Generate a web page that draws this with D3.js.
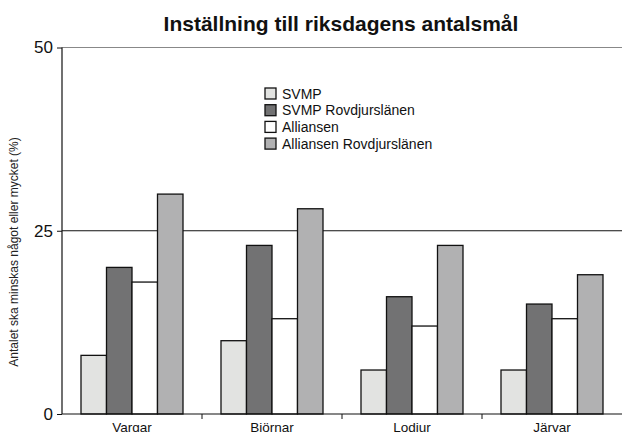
<!DOCTYPE html>
<html>
<head>
<meta charset="utf-8">
<script src="https://cdn.jsdelivr.net/npm/d3@7"></script>
<style>
  body { margin: 0; background: #fff; }
  svg { display: block; font-family: "Liberation Sans", Arial, sans-serif; }
</style>
</head>
<body>
<svg width="622" height="432"></svg>
<script>
// ======
// DATA
// ======
var categories = ["Vargar", "Björnar", "Lodjur", "Järvar"];
var seriesNames = ["SVMP", "SVMP Rovdjurslänen", "Alliansen", "Alliansen Rovdjurslänen"];
var svmp = [8, 10, 6, 6];
var svmpRovdjur = [20, 23, 16, 15];
var alliansen = [18, 13, 12, 13];
var alliansenRovdjur = [30, 28, 23, 19];
var yTicks = [0, 25, 50];
var colors = ["#e2e3e1", "#727273", "#ffffff", "#b1b1b2"];

var seriesValues = [svmp, svmpRovdjur, alliansen, alliansenRovdjur];

// ========
// LAYOUT
// ========
var svg = d3.select("svg");
var plotLeft = 62, plotRight = 622, plotTop = 47.5, plotBottom = 414;

var x = d3.scaleBand()
  .domain(categories)
  .range([plotLeft, plotRight])
  .padding(0);

// bars sit together in the middle of each category band
var xInner = d3.scaleBand()
  .domain(seriesNames)
  .range([0, x.bandwidth()])
  .paddingOuter(0.745)
  .paddingInner(0);

var y = d3.scaleLinear()
  .domain([0, 50])
  .range([plotBottom, plotTop]);

// title
svg.append("text")
  .attr("x", 341)
  .attr("y", 31)
  .attr("text-anchor", "middle")
  .attr("font-size", "21px")
  .attr("font-weight", "bold")
  .attr("fill", "#111")
  .text("Inställning till riksdagens antalsmål");

// gridlines
svg.append("line")
  .attr("x1", plotLeft).attr("x2", plotRight)
  .attr("y1", y(50)).attr("y2", y(50))
  .attr("stroke", "#888").attr("stroke-width", 1);
svg.append("line")
  .attr("x1", plotLeft).attr("x2", plotRight)
  .attr("y1", y(25)).attr("y2", y(25))
  .attr("stroke", "#111").attr("stroke-width", 1.2);

// bars
var rows = [];
categories.forEach(function (c, i) {
  seriesNames.forEach(function (s, j) {
    rows.push({ cat: c, series: s, idx: j, value: seriesValues[j][i] });
  });
});

svg.append("g")
  .selectAll("rect")
  .data(rows)
  .enter().append("rect")
  .attr("x", function (d) { return x(d.cat) + xInner(d.series); })
  .attr("y", function (d) { return y(d.value); })
  .attr("width", xInner.bandwidth())
  .attr("height", function (d) { return y(0) - y(d.value); })
  .attr("fill", function (d) { return colors[d.idx]; })
  .attr("stroke", "#111")
  .attr("stroke-width", 1.3);

// y axis
var yAxis = svg.append("g")
  .attr("transform", "translate(" + plotLeft + ",0)")
  .call(d3.axisLeft(y).tickValues(yTicks).tickSize(5).tickPadding(4));
yAxis.select(".domain").attr("stroke", "#111").attr("stroke-width", 1.2).attr("d", "M0," + plotTop + "V" + plotBottom);
yAxis.selectAll(".tick line").attr("stroke", "#111");
yAxis.selectAll(".tick text")
  .attr("font-size", "17px")
  .attr("fill", "#111")
  .attr("font-family", "Liberation Sans, Arial, sans-serif");

// x axis
var xAxis = svg.append("g")
  .attr("transform", "translate(0," + plotBottom + ")")
  .call(d3.axisBottom(x).tickSize(0).tickPadding(8));
xAxis.select(".domain").attr("stroke", "#111").attr("stroke-width", 1.2).attr("d", "M" + plotLeft + ",0H" + plotRight);
xAxis.selectAll(".tick text")
  .attr("font-size", "13.5px")
  .attr("fill", "#111")
  .attr("font-family", "Liberation Sans, Arial, sans-serif");

// separators between categories
svg.append("g")
  .selectAll("line")
  .data(categories.slice(1))
  .enter().append("line")
  .attr("x1", function (d) { return x(d); })
  .attr("x2", function (d) { return x(d); })
  .attr("y1", plotBottom)
  .attr("y2", plotBottom + 5)
  .attr("stroke", "#111");

// y axis title
svg.append("text")
  .attr("transform", "translate(18,252) rotate(-90)")
  .attr("text-anchor", "middle")
  .attr("font-size", "12px")
  .attr("fill", "#222")
  .text("Antalet ska minskas något eller mycket (%)");

// legend
var legend = svg.append("g")
  .selectAll("g")
  .data(seriesNames)
  .enter().append("g")
  .attr("transform", function (d, i) { return "translate(265," + (88 + i * 16.7) + ")"; });

legend.append("rect")
  .attr("width", 11)
  .attr("height", 11)
  .attr("fill", function (d, i) { return colors[i]; })
  .attr("stroke", "#111")
  .attr("stroke-width", 1.3);

legend.append("text")
  .attr("x", 17)
  .attr("y", 10.5)
  .attr("font-size", "14px")
  .attr("fill", "#111")
  .text(function (d) { return d; });
</script>
</body>
</html>
